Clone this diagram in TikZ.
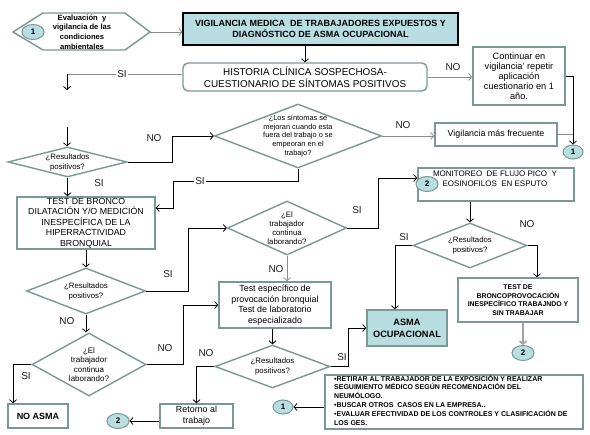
\documentclass[tikz,border=0pt]{standalone}
\usepackage{fontspec}
\setmainfont{Liberation Sans}
\usetikzlibrary{shapes.geometric,arrows.meta,calc}
\definecolor{bd}{RGB}{125,150,150}
\definecolor{tl}{RGB}{185,222,226}
\definecolor{gl}{RGB}{140,140,140}
\definecolor{tx}{RGB}{30,30,30}
\begin{document}
\begin{tikzpicture}[x=1pt,y=-1pt,
  box/.style={draw=bd, line width=1.6pt, fill=white, inner sep=0pt, align=center, font=\fontsize{8.8}{10.4}\selectfont},
  dia/.style={diamond, draw=bd, line width=1.4pt, fill=white, inner sep=0pt},
  dt/.style={align=center, font=\fontsize{7.8}{10}\selectfont, inner sep=0pt},
  circ/.style={ellipse, draw=bd, line width=1pt, fill=tl, inner sep=0pt, font=\bfseries\fontsize{8}{8}\selectfont},
  arr/.style={line width=0.8pt, -{Straight Barb[length=3pt,width=7pt]}},
  garr/.style={arr, draw=gl},
  ln/.style={line width=0.8pt},
  lab/.style={font=\fontsize{10}{10}\selectfont, text=tx, fill=white, inner sep=1pt}]
\useasboundingbox (0,0) rectangle (590,435);
\fill[white] (0,0) rectangle (590,435);

% hexagon
\draw[draw=bd, line width=1.4pt, fill=white] (13,32)--(43,13)--(125,13)--(150,32)--(125,50)--(43,50)--cycle;
\coordinate (hexR) at (150,32);
\node[circ, minimum width=22, minimum height=15] (c1h) at (33,32) {1};
\node[align=center, font=\bfseries\fontsize{7.6}{9.8}\selectfont, inner sep=0pt] (hext) at (82,32) {Evaluación \ y\\vigilancia de las\\condiciones\\ambientales};

% main box
\node[draw=black, line width=1.2pt, fill=tl, inner sep=0pt, align=center, minimum width=275, minimum height=32, font=\bfseries\fontsize{9}{11}\selectfont] (main) at (320.5,29) {VIGILANCIA MEDICA \ DE TRABAJADORES EXPUESTOS Y\\DIAGNÓSTICO DE ASMA OCUPACIONAL};

\node[box, rounded corners=5pt, line width=1.4pt, minimum width=244, minimum height=28, font=\fontsize{9.9}{12}\selectfont] (hist) at (305,77) {HISTORIA CLÍNICA SOSPECHOSA-\\CUESTIONARIO DE SÍNTOMAS POSITIVOS};

\node[box, minimum width=92, minimum height=58, font=\fontsize{9.2}{10}\selectfont] (cont) at (519,76) {Continuar en\\vigilancia' repetir\\aplicación\\cuestionario en 1\\año.};

\node[box, minimum width=122, minimum height=23, font=\fontsize{8.9}{10}\selectfont] (vig) at (496,134.5) {Vigilancia más frecuente};
\node[circ, minimum width=20, minimum height=14] (c1a) at (573,152) {1};

\node[dia, minimum width=167, minimum height=64] (sint) at (298,136) {};
\node[dt, font=\fontsize{7.4}{8.7}\selectfont] (sintt) at (298,136) {¿Los síntomas se\\mejoran cuando esta\\fuera del trabajo o se\\empeoran en el\\trabajo?};

\node[dia, minimum width=119, minimum height=30] (res1) at (67.5,162) {};
\node[dt] (res1t) at (67.5,162) {¿Resultados\\positivos?};

\node[box, minimum width=138, minimum height=52] (tb) at (86,223) {TEST DE BRONCO\\DILATACIÓN Y/O MEDICIÓN\\INESPECÍFICA DE LA\\HIPERRACTIVIDAD\\BRONQUIAL};

\node[dia, minimum width=119, minimum height=46] (res2) at (86,291) {};
\node[dt] (res2t) at (86,291) {¿Resultados\\positivos?};

\node[dia, minimum width=119, minimum height=54] (el1) at (287,228) {};
\node[dt, font=\fontsize{7.8}{9}\selectfont] (el1t) at (287,228) {¿El\\trabajador\\continua\\laborando?};

\node[box, minimum width=156, minimum height=33] (mon) at (496,184.5) {};
\node[dt, font=\fontsize{8}{10}\selectfont] (mont) at (495,179) {MONITOREO \ DE FLUJO PICO \ Y\\EOSINOFILOS \ EN ESPUTO};
\node[circ, minimum width=22, minimum height=15] (c2a) at (427,184) {2};

\node[dia, minimum width=114, minimum height=45] (res5) at (470,245.5) {};
\node[dt] (res5t) at (470,245.5) {¿Resultados\\positivos?};

\node[box, minimum width=112, minimum height=46, font=\fontsize{8.9}{10.5}\selectfont] (te) at (275,305) {Test específico de\\provocación bronquial\\Test de laboratorio\\especializado};

\node[dia, minimum width=114, minimum height=63] (el2) at (89,364.5) {};
\node[dt, font=\fontsize{8}{9.3}\selectfont] (el2t) at (89,364.5) {¿El\\trabajador\\continua\\laborando?};

\node[box, minimum width=60, minimum height=24, font=\bfseries\fontsize{9}{10}\selectfont] (noasma) at (38,416) {NO ASMA};

\node[dia, minimum width=115, minimum height=43] (res4) at (272.5,366.5) {};
\node[dt] (res4t) at (272.5,366.5) {¿Resultados\\positivos?};

\node[box, minimum width=73, minimum height=24, font=\fontsize{8.9}{11}\selectfont] (ret) at (196.5,416) {Retorno al\\trabajo};
\node[circ, minimum width=22, minimum height=15] (c2b) at (118,421) {2};

\node[box, fill=tl, minimum width=80, minimum height=36, font=\bfseries\fontsize{9.2}{12}\selectfont] (asma) at (407,328) {ASMA\\OCUPACIONAL};

\node[box, minimum width=120, minimum height=44, font=\bfseries\fontsize{6.9}{8.7}\selectfont] (tbp) at (518,300) {TEST DE\\BRONCOPROVOCACIÓN\\INESPECÍFICO TRABAJNDO Y\\SIN TRABAJAR};
\node[circ, minimum width=22, minimum height=15] (c2c) at (523,353) {2};

\node[box, minimum width=258, minimum height=54] (bot) at (454,402) {};
\node[align=left, anchor=west, inner sep=0pt, font=\bfseries\fontsize{7}{8.8}\selectfont] (bott) at (334,400) {•RETIRAR AL TRABAJADOR DE LA EXPOSICIÓN Y REALIZAR\\SEGUIMIENTO MÉDICO SEGÚN RECOMENDACIÓN DEL\\NEUMÓLOGO.\\•BUSCAR OTROS \ CASOS EN LA EMPRESA..\\•EVALUAR EFECTIVIDAD DE LOS CONTROLES Y CLASIFICACIÓN DE\\LOS GES.};
\node[circ, minimum width=20, minimum height=14] (c1b) at (283,407) {1};

% connectors
\draw[garr] (hexR) -- (hexR -| main.west);
\draw[arr] (hist.north |- main.south) -- (hist.north);

\coordinate (siA) at (67,74);
\coordinate (siB) at (67,90);
\coordinate (siC) at (67,127);
\draw[ln, draw=gl] ([yshift=3pt]hist.west) -- (siA);
\draw[arr] (siA) -- (siB);
\draw[arr] (siC) -- (siC |- res1.north);
\node[lab] (lsi1) at (122,74) {SI};

\draw[garr] (hist.east) -- (hist.east -| cont.west);
\node[lab] (lno1) at (453,67) {NO};

\coordinate (k1) at (573,76);
\draw[arr] (cont.east) -- (k1) -- (c1a.north);
\draw[ln, draw=gl] (vig.east) -- (vig.east -| k1);

\coordinate (k2) at (172,162);
\draw[arr] (res1.east) -- (k2) |- (sint.west);
\node[lab] (lno2) at (154,138) {NO};

\draw[garr] (sint.east) -- (sint.east -| vig.west);
\node[lab] (lno3) at (403,125) {NO};

\coordinate (k3) at (298,181);
\coordinate (k4) at (173,208);
\draw[arr] (sint.south) -- (k3) -| (k4) -- (k4 -| tb.east);
\node[lab] (lsi2) at (200,181) {SI};

\draw[arr] (res1.south) -- (res1.south |- tb.north);
\node[lab] (lsi3) at (99,183) {SI};

\draw[arr] (tb.south) -- (res2.north);

\coordinate (k5) at (188,291);
\draw[arr] (res2.east) -- (k5) |- (el1.west);
\node[lab] (lsi4) at (168,274) {SI};

\draw[garr] (el1.south) -- (el1.south |- te.north);
\node[lab] (lno4) at (276,269) {NO};

\coordinate (k6) at (378,228);
\coordinate (k7) at (378,178);
\draw[arr] (el1.east) -- (k6) -- (k7) -- (k7 -| mon.west);
\node[lab] (lsi5) at (357,210) {SI};

\draw[arr] (res2.south) -- (res2.south |- el2.north);
\node[lab] (lno5) at (67,321) {NO};

\coordinate (k8) at (13,364.5);
\draw[arr] (el2.west) -- (k8) -- (k8 |- noasma.north);
\node[lab] (lsi6) at (26,376) {SI};

\coordinate (k9) at (183,364.5);
\draw[arr] (el2.east) -- (k9) |- (te.west);
\node[lab] (lno6) at (165,348) {NO};

\draw[arr] (res4.north |- te.south) -- (res4.north);

\coordinate (k10) at (196.5,366.5);
\draw[arr] (res4.west) -- (k10) -- (ret.north);
\node[lab] (lno7) at (206,353) {NO};

\coordinate (k11) at (348,366.5);
\draw[arr] (res4.east) -- (k11) |- (asma.west);
\node[lab] (lsi7) at (342,357) {SI};

\draw[arr] (ret.west |- c2b.east) -- (c2b.east);

\draw[arr] (res5.north |- mon.south) -- (res5.north);

\coordinate (k12) at (395,245.5);
\draw[arr] (res5.west) -- (k12) -- (k12 |- asma.north);
\node[lab] (lsi8) at (404,237) {SI};

\coordinate (k13) at (537,245.5);
\draw[arr] (res5.east) -- (k13) -- (k13 |- tbp.north);
\node[lab] (lno8) at (527,224) {NO};

\draw[arr, draw=gl!80, line width=1.6pt] (c2c.north |- tbp.south) -- (c2c.north);

\draw[arr] (bot.west |- c1b.east) -- (c1b.east);
\end{tikzpicture}
\end{document}
